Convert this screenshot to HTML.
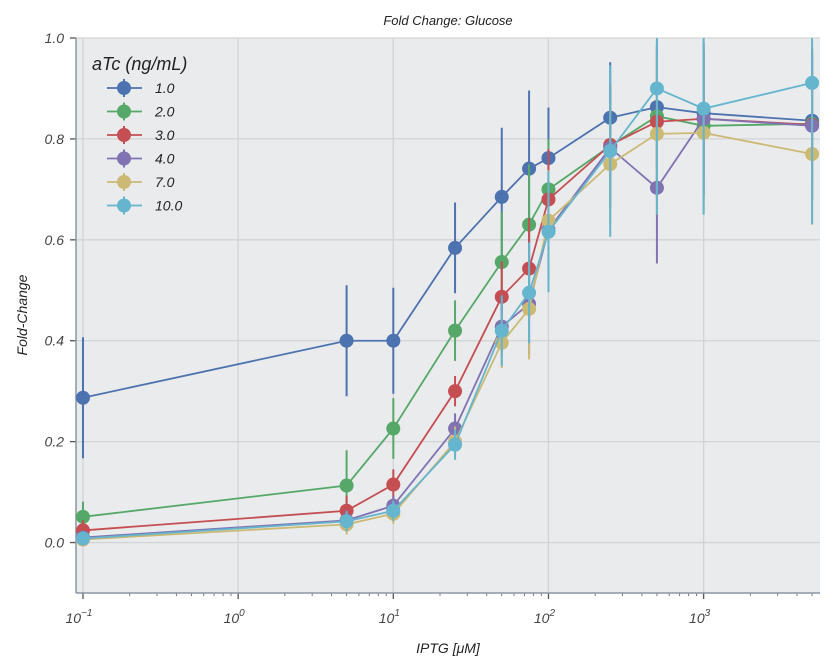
<!DOCTYPE html>
<html><head><meta charset="utf-8"><style>
body{margin:0;background:#fff;}
svg{display:block;font-family:"Liberation Sans",sans-serif;font-style:italic;}
</style></head><body>
<svg id="chart" width="838" height="670" viewBox="0 0 838 670" xmlns="http://www.w3.org/2000/svg"></svg>
<script>
const xValues=[0.1,5,10,25,50,75,100,250,500,1000,5000];
const seriesLabels=["1.0","2.0","3.0","4.0","7.0","10.0"];
const seriesColors=["#4c72b0","#55a868","#c44e52","#8172b2","#ccb974","#64b5cd"];
const s1=[0.287,0.40,0.40,0.584,0.685,0.741,0.762,0.842,0.863,0.851,0.836];
const s2=[0.051,0.113,0.226,0.42,0.556,0.63,0.70,0.786,0.845,0.826,0.83];
const s3=[0.024,0.063,0.115,0.30,0.487,0.543,0.68,0.788,0.834,0.84,0.828];
const s4=[0.010,0.044,0.073,0.226,0.428,0.473,0.62,0.782,0.703,0.84,0.826];
const s5=[0.006,0.036,0.057,0.20,0.396,0.463,0.638,0.75,0.81,0.812,0.77];
const s6=[0.008,0.042,0.063,0.194,0.42,0.495,0.616,0.776,0.90,0.86,0.911];
const e1=[0.12,0.11,0.105,0.09,0.137,0.155,0.1,0.11,0.12,0.12,0.12];
const e2=[0.03,0.07,0.06,0.06,0.1,0.12,0.1,0.12,0.15,0.15,0.15];
const e3=[0.02,0.03,0.03,0.03,0.07,0.1,0.1,0.12,0.15,0.15,0.15];
const e4=[0.01,0.02,0.02,0.03,0.06,0.1,0.1,0.12,0.15,0.15,0.15];
const e5=[0.01,0.02,0.02,0.03,0.05,0.1,0.1,0.12,0.16,0.16,0.14];
const e6=[0.01,0.02,0.02,0.03,0.07,0.1,0.12,0.17,0.25,0.21,0.28];
const seriesValues=[s1,s2,s3,s4,s5,s6];
const seriesErrors=[e1,e2,e3,e4,e5,e6];
const yTicks=[0.0,0.2,0.4,0.6,0.8,1.0];
const xTickExps=[-1,0,1,2,3];

const L=76,R=820,T=38,B=593;
const xMinLog=-1.045,xMaxLog=3.75,yMin=-0.1,yMax=1.0;
function xs(v){return L+(Math.log10(v)-xMinLog)/(xMaxLog-xMinLog)*(R-L);}
function ys(v){return B-(v-yMin)/(yMax-yMin)*(B-T);}
const svg=document.getElementById('chart');
const NS="http://www.w3.org/2000/svg";
function mk(tag,attrs,parent){const e=document.createElementNS(NS,tag);for(const k in attrs)e.setAttribute(k,attrs[k]);(parent||svg).appendChild(e);return e;}

let bg=mk('rect',{x:L,y:T,width:R-L,height:B-T,fill:'#eaebed'});


const clip=mk('clipPath',{id:'pc'});mk('rect',{x:L,y:T,width:R-L,height:B-T},clip);

yTicks.forEach(v=>{
 let g=mk('line',{x1:L,x2:R,y1:ys(v),y2:ys(v),stroke:'#d2d3d6','stroke-width':1.3});
 
 
 mk('line',{x1:L-6,x2:L,y1:ys(v),y2:ys(v),stroke:'#555','stroke-width':1.3});
 let t=mk('text',{x:L-12,y:ys(v)+5,'text-anchor':'end','font-size':14,fill:'#444'});
 t.textContent=v.toFixed(1);
 
 
});
xTickExps.forEach(p=>{
 const x=xs(Math.pow(10,p));
 let g=mk('line',{x1:x,x2:x,y1:T,y2:B,stroke:'#d2d3d6','stroke-width':1.3});
 
 
 mk('line',{x1:x,x2:x,y1:B,y2:B+6,stroke:'#555','stroke-width':1.3});
 let t=mk('text',{x:x-4,y:B+30,'text-anchor':'middle','font-size':14,fill:'#444'});
 t.textContent='10';
 let s=mk('tspan',{dy:-7,'font-size':10},t);s.textContent=p<0?'\u2212'+(-p):String(p);
 
 
});
for(let p=-2;p<=3;p++)for(let m=2;m<=9;m++){const v=m*Math.pow(10,p);const x=xs(v);if(x>L&&x<R)mk('line',{x1:x,x2:x,y1:B,y2:B+3,stroke:'#777','stroke-width':1});}

mk('line',{x1:L,x2:L,y1:T,y2:B,stroke:'#8a96a4','stroke-width':1.5});
mk('line',{x1:L,x2:R,y1:B,y2:B,stroke:'#8a96a4','stroke-width':1.5});

const pg=mk('g',{'clip-path':'url(#pc)'});
seriesValues.forEach((vals,i)=>{
 const c=seriesColors[i];
 const g=mk('g',{},pg);
 
 
 vals.forEach((v,j)=>{const x=xs(xValues[j]);mk('line',{x1:x,x2:x,y1:ys(v+seriesErrors[i][j]),y2:ys(v-seriesErrors[i][j]),stroke:c,'stroke-width':2},g);});
 mk('polyline',{points:vals.map((v,j)=>xs(xValues[j])+','+ys(v)).join(' '),fill:'none',stroke:c,'stroke-width':1.8},g);
 vals.forEach((v,j)=>{const d=mk('circle',{cx:xs(xValues[j]),cy:ys(v),r:7,fill:c},g);
  
  });
});

let title=mk('text',{x:448,y:25,'text-anchor':'middle','font-size':13,fill:'#222'});title.textContent='Fold Change: Glucose';

let xl=mk('text',{x:448,y:653,'text-anchor':'middle','font-size':14,fill:'#222'});xl.textContent='IPTG [\u03bcM]';

let yl=mk('text',{x:0,y:0,'text-anchor':'middle','font-size':14,fill:'#222',transform:'translate(27,315) rotate(-90)'});yl.textContent='Fold-Change';


const lg=mk('g',{});


let lt=mk('text',{x:92,y:70,'font-size':18,fill:'#222'},lg);lt.textContent='aTc (ng/mL)';
seriesLabels.forEach((lab,i)=>{
 const y=88+i*23.5;
 const e=mk('g',{},lg);
 
 
 mk('line',{x1:107,x2:142,y1:y,y2:y,stroke:seriesColors[i],'stroke-width':1.8},e);
 mk('line',{x1:124,x2:124,y1:y-9,y2:y+9,stroke:seriesColors[i],'stroke-width':2},e);
 mk('circle',{cx:124,cy:y,r:7,fill:seriesColors[i]},e);
 let t=mk('text',{x:155,y:y+5,'font-size':14,fill:'#222'},e);t.textContent=lab;
});
</script>
</body></html>
